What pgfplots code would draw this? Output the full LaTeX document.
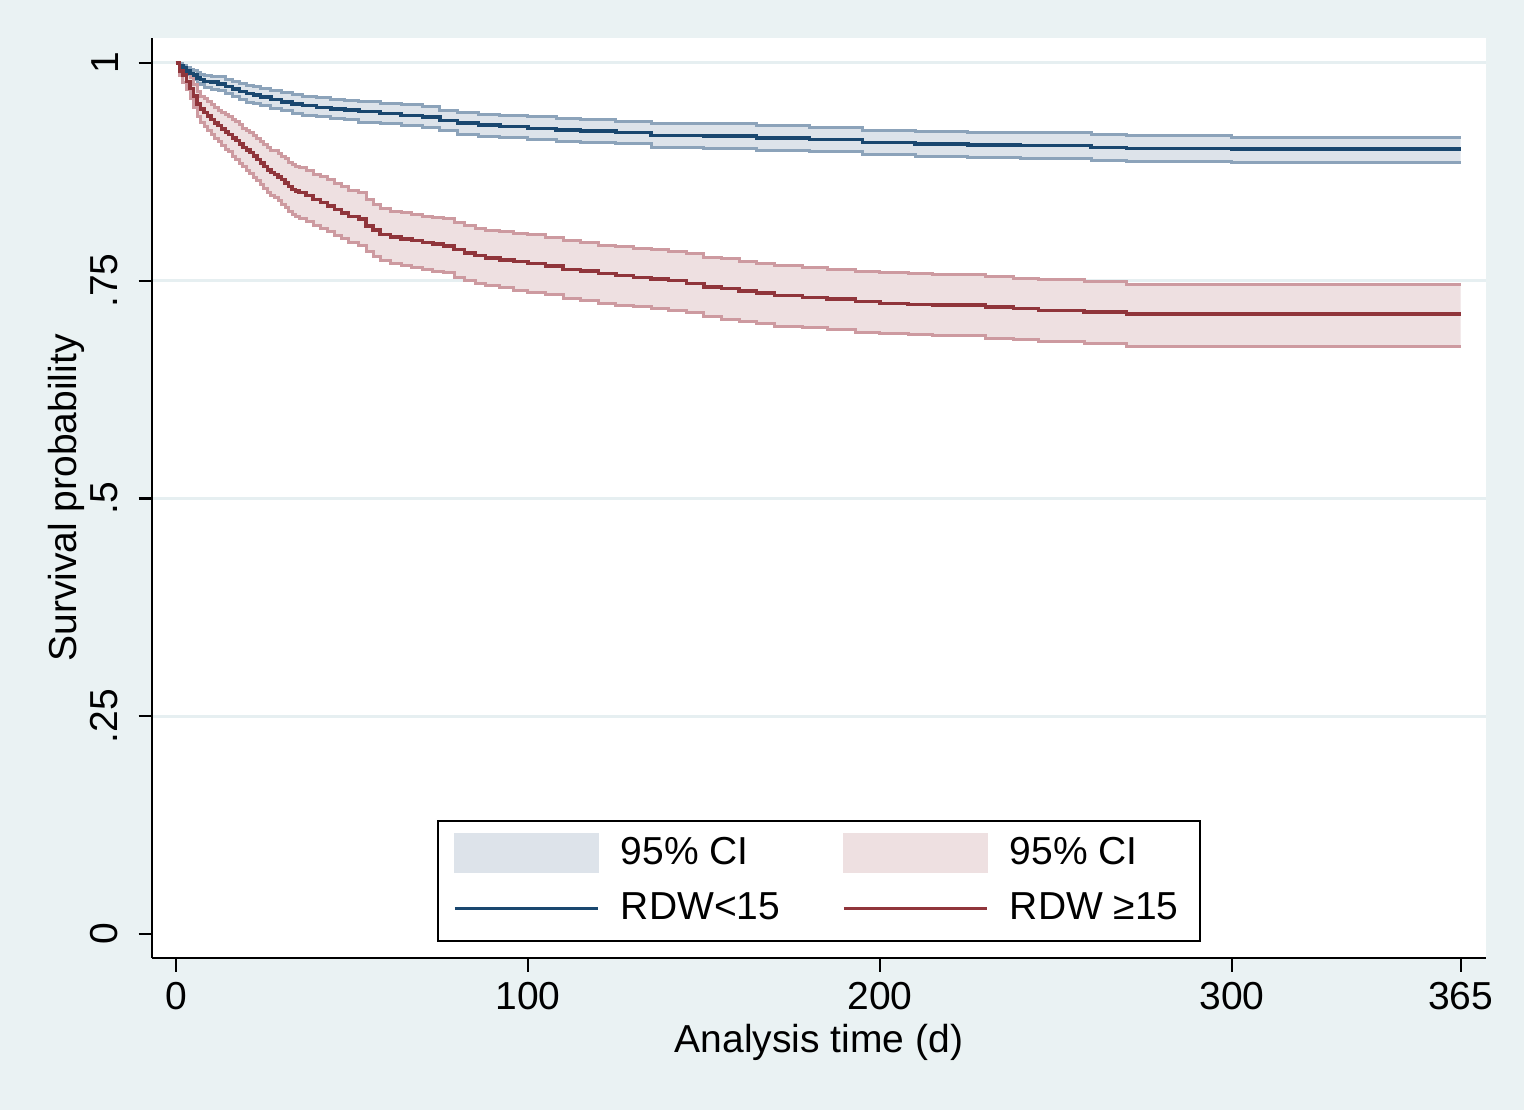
\documentclass[border=0pt]{standalone}
\usepackage{fontspec}
\setmainfont{Liberation Sans}
\usepackage{pgfplots}
\usepackage{pgfplotstable}
\pgfplotsset{compat=1.18}
\usepgfplotslibrary{fillbetween}

\definecolor{bgcol}{HTML}{EAF2F3}
\definecolor{gridcol}{HTML}{E6EFF1}
\definecolor{bluefill}{HTML}{DDE3EA}
\definecolor{blueedge}{HTML}{8CA3BA}
\definecolor{blueline}{HTML}{1A476F}
\definecolor{redfill}{HTML}{EEE0E1}
\definecolor{rededge}{HTML}{CD9AA0}
\definecolor{redline}{HTML}{90353B}
\pagecolor{bgcol}

% Kaplan-Meier estimates, RDW<15
\pgfplotstableread{
t   est   lo    hi
0   1.000 1.000 1.000
1   0.997 0.995 0.999
2   0.994 0.991 0.997
3   0.991 0.987 0.995
4   0.988 0.983 0.993
5   0.986 0.981 0.991
6   0.983 0.977 0.989
7   0.981 0.975 0.987
8   0.979 0.972 0.986
10  0.978 0.970 0.985
12  0.976 0.968 0.984
14  0.973 0.965 0.981
16  0.970 0.961 0.979
18  0.967 0.958 0.976
20  0.965 0.955 0.974
22  0.963 0.953 0.973
24  0.961 0.951 0.971
27  0.958 0.948 0.968
30  0.955 0.945 0.966
33  0.953 0.942 0.964
36  0.951 0.940 0.962
40  0.949 0.938 0.960
44  0.947 0.936 0.958
48  0.946 0.935 0.957
52  0.944 0.932 0.956
58  0.942 0.930 0.954
64  0.940 0.928 0.952
70  0.938 0.926 0.950
75  0.934 0.922 0.946
80  0.931 0.918 0.943
86  0.929 0.916 0.941
92  0.927 0.914 0.940
100 0.925 0.912 0.938
108 0.923 0.910 0.936
115 0.922 0.909 0.935
125 0.920 0.907 0.933
135 0.917 0.903 0.931
150 0.916 0.902 0.930
165 0.914 0.900 0.928
180 0.912 0.898 0.926
195 0.909 0.895 0.923
210 0.907 0.893 0.921
225 0.906 0.892 0.920
240 0.905 0.890 0.920
260 0.903 0.888 0.918
270 0.902 0.887 0.917
300 0.901 0.886 0.915
365 0.901 0.886 0.915
}\lowrdw

% Kaplan-Meier estimates, RDW >= 15
\pgfplotstableread{
t   est   lo    hi
0   1.000 1.000 1.000
1   0.991 0.986 0.996
2   0.986 0.978 0.994
3   0.979 0.969 0.989
4   0.971 0.959 0.983
5   0.962 0.949 0.975
6   0.953 0.939 0.967
7   0.947 0.932 0.962
8   0.943 0.927 0.959
9   0.939 0.922 0.956
10  0.935 0.918 0.952
11  0.931 0.913 0.949
12  0.928 0.910 0.946
13  0.924 0.905 0.943
14  0.921 0.901 0.941
15  0.918 0.898 0.938
16  0.914 0.893 0.935
17  0.911 0.889 0.933
18  0.907 0.885 0.929
19  0.903 0.881 0.925
20  0.900 0.877 0.923
21  0.897 0.873 0.920
22  0.893 0.869 0.917
23  0.889 0.865 0.913
24  0.885 0.860 0.910
25  0.881 0.856 0.906
26  0.877 0.851 0.903
27  0.874 0.848 0.900
28  0.872 0.845 0.899
29  0.869 0.842 0.896
30  0.866 0.838 0.893
31  0.862 0.834 0.890
32  0.858 0.830 0.886
33  0.855 0.826 0.883
34  0.853 0.824 0.881
35  0.851 0.822 0.880
37  0.848 0.818 0.877
39  0.843 0.813 0.872
41  0.840 0.810 0.870
43  0.836 0.806 0.866
45  0.832 0.802 0.862
47  0.828 0.798 0.858
49  0.824 0.794 0.854
52  0.821 0.791 0.851
54  0.813 0.783 0.843
56  0.808 0.778 0.838
58  0.803 0.773 0.833
61  0.800 0.770 0.830
64  0.798 0.767 0.828
67  0.796 0.765 0.826
70  0.794 0.763 0.824
73  0.792 0.761 0.823
76  0.790 0.759 0.821
79  0.786 0.754 0.817
82  0.782 0.750 0.813
85  0.779 0.747 0.810
88  0.776 0.744 0.808
92  0.774 0.742 0.806
96  0.772 0.739 0.804
100 0.770 0.737 0.803
105 0.767 0.734 0.800
110 0.763 0.730 0.796
115 0.761 0.727 0.794
120 0.758 0.724 0.791
125 0.756 0.722 0.789
130 0.754 0.720 0.787
135 0.752 0.718 0.786
140 0.750 0.716 0.784
145 0.747 0.713 0.781
150 0.743 0.709 0.777
155 0.741 0.706 0.775
160 0.738 0.703 0.772
165 0.736 0.701 0.770
170 0.733 0.698 0.767
178 0.731 0.696 0.765
185 0.729 0.694 0.763
193 0.726 0.691 0.761
200 0.724 0.689 0.759
208 0.723 0.688 0.758
215 0.722 0.687 0.757
230 0.720 0.684 0.755
238 0.718 0.682 0.753
245 0.716 0.680 0.751
258 0.714 0.678 0.749
270 0.712 0.675 0.746
365 0.712 0.675 0.746
}\highrdw

\begin{document}
\begin{tikzpicture}
\begin{axis}[
  at={(50.67pt,50.67pt)}, anchor=south west,
  scale only axis, width=444.67pt, height=306.67pt,
  xmin=-6.8, xmax=372.2, ymin=-0.0276, ymax=1.0287,
  axis x line=bottom, axis y line=left,
  axis line style={-, line width=0.9pt, black},
  axis background/.style={fill=white},
  tick align=outside, major tick length=4.5pt,
  tick style={line width=0.7pt, black},
  xtick={0,100,200,300,365}, xticklabels={0,100,200,300,365},
  ytick={0,0.25,0.5,0.75,1}, yticklabels={0,.25,.5,.75,1},
  /pgf/number format/assume math mode=true,
  extra y ticks={0.25,0.5,0.75,1}, extra y tick labels={},
  extra y tick style={major tick length=0pt, ymajorgrids=true,
    major grid style={gridcol, line width=1pt}},
  tick label style={font=\fontsize{13}{15.6}\selectfont},
  yticklabel style={rotate=90, anchor=south, yshift=3.3pt},
  label style={font=\fontsize{13}{15.6}\selectfont},
  xlabel={Analysis time (d)},
  ylabel={Survival probability},
  xlabel style={at={(axis description cs:0.5,-0.0913)}, anchor=center},
  ylabel style={at={(axis description cs:-0.0645,0.5)}, anchor=center, rotate=0},
  legend columns=2,
  legend style={at={(0.5,0.0174)}, anchor=south, draw=black, line width=0.7pt,
    fill=white, font=\fontsize{13}{15.6}\selectfont, inner xsep=5pt, inner ysep=3.5pt,
    row sep=4pt,
    /tikz/every even column/.append style={column sep=18.7pt}},
  legend cell align=left,
]
% name the band edges
\addplot[const plot, draw=none, name path=bhi, forget plot] table[x=t,y=hi]{\lowrdw};
\addplot[const plot, draw=none, name path=blo, forget plot] table[x=t,y=lo]{\lowrdw};
\addplot[const plot, draw=none, name path=rhi, forget plot] table[x=t,y=hi]{\highrdw};
\addplot[const plot, draw=none, name path=rlo, forget plot] table[x=t,y=lo]{\highrdw};
\addplot[fill=bluefill, draw=none, forget plot] fill between[of=bhi and blo];
\addplot[fill=redfill, draw=none, forget plot] fill between[of=rhi and rlo];
% band outlines
\addplot[const plot, blueedge, line width=1pt, forget plot] table[x=t,y=hi]{\lowrdw};
\addplot[const plot, blueedge, line width=1pt, forget plot] table[x=t,y=lo]{\lowrdw};
\addplot[const plot, rededge, line width=1pt, forget plot] table[x=t,y=hi]{\highrdw};
\addplot[const plot, rededge, line width=1pt, forget plot] table[x=t,y=lo]{\highrdw};
% survival curves
\addplot[const plot, blueline, line width=1.15pt, forget plot] table[x=t,y=est]{\lowrdw};
\addplot[const plot, redline, line width=1.15pt, forget plot] table[x=t,y=est]{\highrdw};

% legend, in Stata's order
\addlegendimage{legend image code/.code={\fill[bluefill] (0pt,-6.3pt) rectangle (47.7pt,6.3pt); \path (53pt,0pt);}}
\addlegendentry{95\% CI}
\addlegendimage{legend image code/.code={\fill[redfill] (0pt,-6.3pt) rectangle (47.7pt,6.3pt); \path (53pt,0pt);}}
\addlegendentry{95\% CI}
\addlegendimage{legend image code/.code={\draw[blueline, line width=1pt] (0pt,0pt) -- (47.7pt,0pt); \path (53pt,0pt);}}
\addlegendentry{RDW<15}
\addlegendimage{legend image code/.code={\draw[redline, line width=1pt] (0pt,0pt) -- (47.7pt,0pt); \path (53pt,0pt);}}
\addlegendentry{RDW ≥15}
\end{axis}
\pgfresetboundingbox
\path[use as bounding box] (0,0) rectangle (508pt,370pt);
\end{tikzpicture}
\end{document}
